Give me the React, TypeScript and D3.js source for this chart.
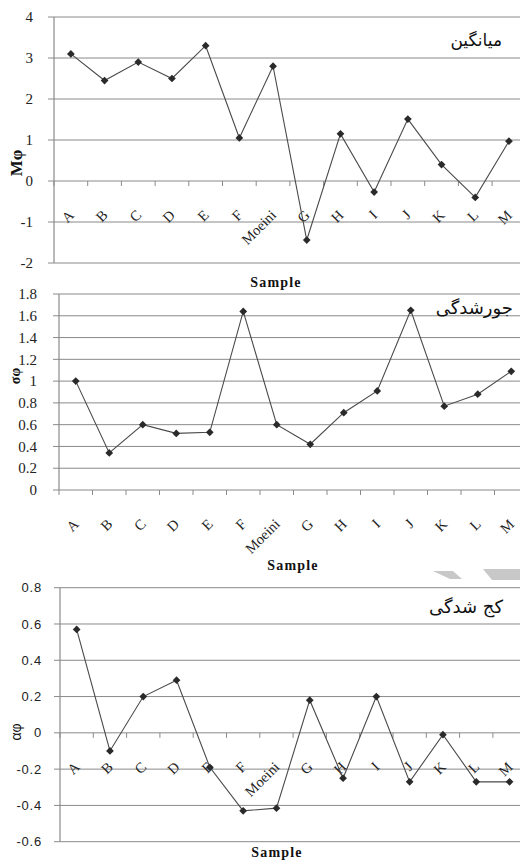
import React from "react";
import * as d3 from "d3";

const categories = ["A", "B", "C", "D", "E", "F", "Moeini", "G", "H", "I", "J", "K", "L", "M"];
const meanValues = [3.1, 2.45, 2.9, 2.5, 3.3, 1.05, 2.8, -1.44, 1.15, -0.27, 1.51, 0.4, -0.4, 0.97];
const sortingValues = [1.0, 0.34, 0.6, 0.52, 0.53, 1.64, 0.6, 0.42, 0.71, 0.91, 1.65, 0.77, 0.88, 1.09];
const skewnessValues = [0.57, -0.1, 0.2, 0.29, -0.19, -0.43, -0.415, 0.18, -0.25, 0.2, -0.27, -0.01, -0.27, -0.27];
const meanTicks = [-2, -1, 0, 1, 2, 3, 4];
const sortingTicks = [0, 0.2, 0.4, 0.6, 0.8, 1, 1.2, 1.4, 1.6, 1.8];
const skewTicks = [-0.6, -0.4, -0.2, 0, 0.2, 0.4, 0.6, 0.8];
const titles = ["میانگین", "جورشدگی", "کج شدگی"];
const yTitles = ["Mφ", "σφ", "αφ"];
const xTitle = "Sample";

type PanelProps = {
  values: number[];
  ticks: number[];
  left: number;
  step: number;
  top: number;
  bottom: number;
  tickFont: string;
  tickSize: number;
  tickSpacing: number;
  tickEnd: number;
  labelBelowPlot: boolean;
  title: string;
  titleX: number;
  titleY: number;
  titleSize: number;
  yTitle: string;
  yTitleX: number;
  yTitleY: number;
  yTitleSize: number;
  yTitleFont: string;
  yTitleWeight: string;
  xTitleX: number;
  xTitleY: number;
};

const SERIF = "Liberation Serif, serif";
const SANS = "Liberation Sans, sans-serif";
const GRID = "#8a8a8a";

function Panel(p: PanelProps) {
  const x = d3
    .scaleBand<string>()
    .domain(categories)
    .range([p.left, p.left + categories.length * p.step])
    .padding(0);
  const y = d3
    .scaleLinear()
    .domain([d3.min(p.ticks)!, d3.max(p.ticks)!])
    .range([p.bottom, p.top]);
  const bw = x.bandwidth();
  const cx = (c: string) => (x(c) as number) + bw / 2;
  const line = d3
    .line<number>()
    .x((_, i) => cx(categories[i]))
    .y((v) => y(v));
  const marker = d3.symbol(d3.symbolSquare, 30)()!;
  const y0 = y(0);
  const labelY = p.labelBelowPlot ? p.bottom + 35 : y0 + 35;
  const boundaries = d3.range(categories.length + 1).map((i) => p.left + i * p.step);
  const fmt = (v: number) => String(Math.round(v * 10) / 10);
  return (
    <g>
      {p.ticks.map((t) => (
        <g key={"g" + t}>
          <line x1={p.left - 6} x2={p.left + categories.length * p.step} y1={y(t)} y2={y(t)} stroke={GRID} strokeWidth={1} />
          <text
            x={p.tickEnd}
            y={y(t)}
            dy="0.35em"
            textAnchor="end"
            style={{ fontFamily: p.tickFont, fontSize: p.tickSize + "px", letterSpacing: p.tickSpacing + "px" }}
            fill="#222"
          >
            {fmt(t)}
          </text>
        </g>
      ))}
      <line x1={p.left} x2={p.left} y1={p.top} y2={p.bottom} stroke={GRID} strokeWidth={1.2} />
      {boundaries.map((b, i) => (
        <line key={"t" + i} x1={b} x2={b} y1={y0} y2={y0 + 5} stroke={GRID} strokeWidth={1} />
      ))}
      {categories.map((c) => (
        <text
          key={"c" + c}
          transform={`translate(${cx(c) + 4},${labelY}) rotate(-45)`}
          textAnchor="end"
          style={{ fontFamily: SERIF, fontSize: "14.5px" }}
          fill="#222"
        >
          {c}
        </text>
      ))}
      <path d={line(p.values) || ""} fill="none" stroke="#4a4a4a" strokeWidth={1.1} />
      {p.values.map((v, i) => (
        <path
          key={"m" + i}
          d={marker}
          transform={`translate(${cx(categories[i])},${y(v)}) rotate(45)`}
          fill="#2a2a2a"
        />
      ))}
      <text x={p.titleX} y={p.titleY} textAnchor="end" style={{ fontFamily: "DejaVu Sans, sans-serif", fontSize: p.titleSize + "px" }} fill="#111">
        {p.title}
      </text>
      <text
        transform={`translate(${p.yTitleX},${p.yTitleY}) rotate(-90)`}
        textAnchor="middle"
        style={{ fontFamily: p.yTitleFont, fontWeight: p.yTitleWeight as any, fontSize: p.yTitleSize + "px" }}
        fill="#111"
      >
        {p.yTitle}
      </text>
      <text
        x={p.xTitleX}
        y={p.xTitleY}
        textAnchor="middle"
        style={{ fontFamily: SERIF, fontWeight: "bold", fontSize: "14px", letterSpacing: "1.2px" }}
        fill="#111"
      >
        {xTitle}
      </text>
    </g>
  );
}

export default function App() {
  return (
    <svg
      width={520}
      height={863}
      style={{ position: "absolute", left: 0, top: 0, background: "#fff" }}
    >
      <rect x={0} y={0} width={520} height={863} fill="#fff" />
      <Panel
        values={meanValues}
        ticks={meanTicks}
        left={54}
        step={33.7}
        top={17}
        bottom={263}
        tickFont={SERIF}
        tickSize={15}
        tickSpacing={0}
        tickEnd={33}
        labelBelowPlot={false}
        title={titles[0]}
        titleX={502}
        titleY={46}
        titleSize={17}
        yTitle={yTitles[0]}
        yTitleX={22}
        yTitleY={163}
        yTitleSize={17}
        yTitleFont={SERIF}
        yTitleWeight="bold"
        xTitleX={276}
        xTitleY={287}
      />
      <Panel
        values={sortingValues}
        ticks={sortingTicks}
        left={59}
        step={33.5}
        top={294}
        bottom={490}
        tickFont={SERIF}
        tickSize={15}
        tickSpacing={0}
        tickEnd={37}
        labelBelowPlot={true}
        title={titles[1]}
        titleX={513}
        titleY={314}
        titleSize={18}
        yTitle={yTitles[1]}
        yTitleX={20}
        yTitleY={376}
        yTitleSize={14}
        yTitleFont={SERIF}
        yTitleWeight="bold"
        xTitleX={293}
        xTitleY={570}
      />
      <polygon points="433,571 453,571 462,579 450,579" fill="#c8c8c8" />
      <polygon points="483,569 520,569 520,580 492,580" fill="#c8c8c8" />
      <Panel
        values={skewnessValues}
        ticks={skewTicks}
        left={60}
        step={33.3}
        top={587.7}
        bottom={841.7}
        tickFont={SANS}
        tickSize={13}
        tickSpacing={0.8}
        tickEnd={42}
        labelBelowPlot={false}
        title={titles[2]}
        titleX={503}
        titleY={613}
        titleSize={18}
        yTitle={yTitles[2]}
        yTitleX={21}
        yTitleY={732}
        yTitleSize={14}
        yTitleFont={SANS}
        yTitleWeight="normal"
        xTitleX={277}
        xTitleY={857}
      />
    </svg>
  );
}
